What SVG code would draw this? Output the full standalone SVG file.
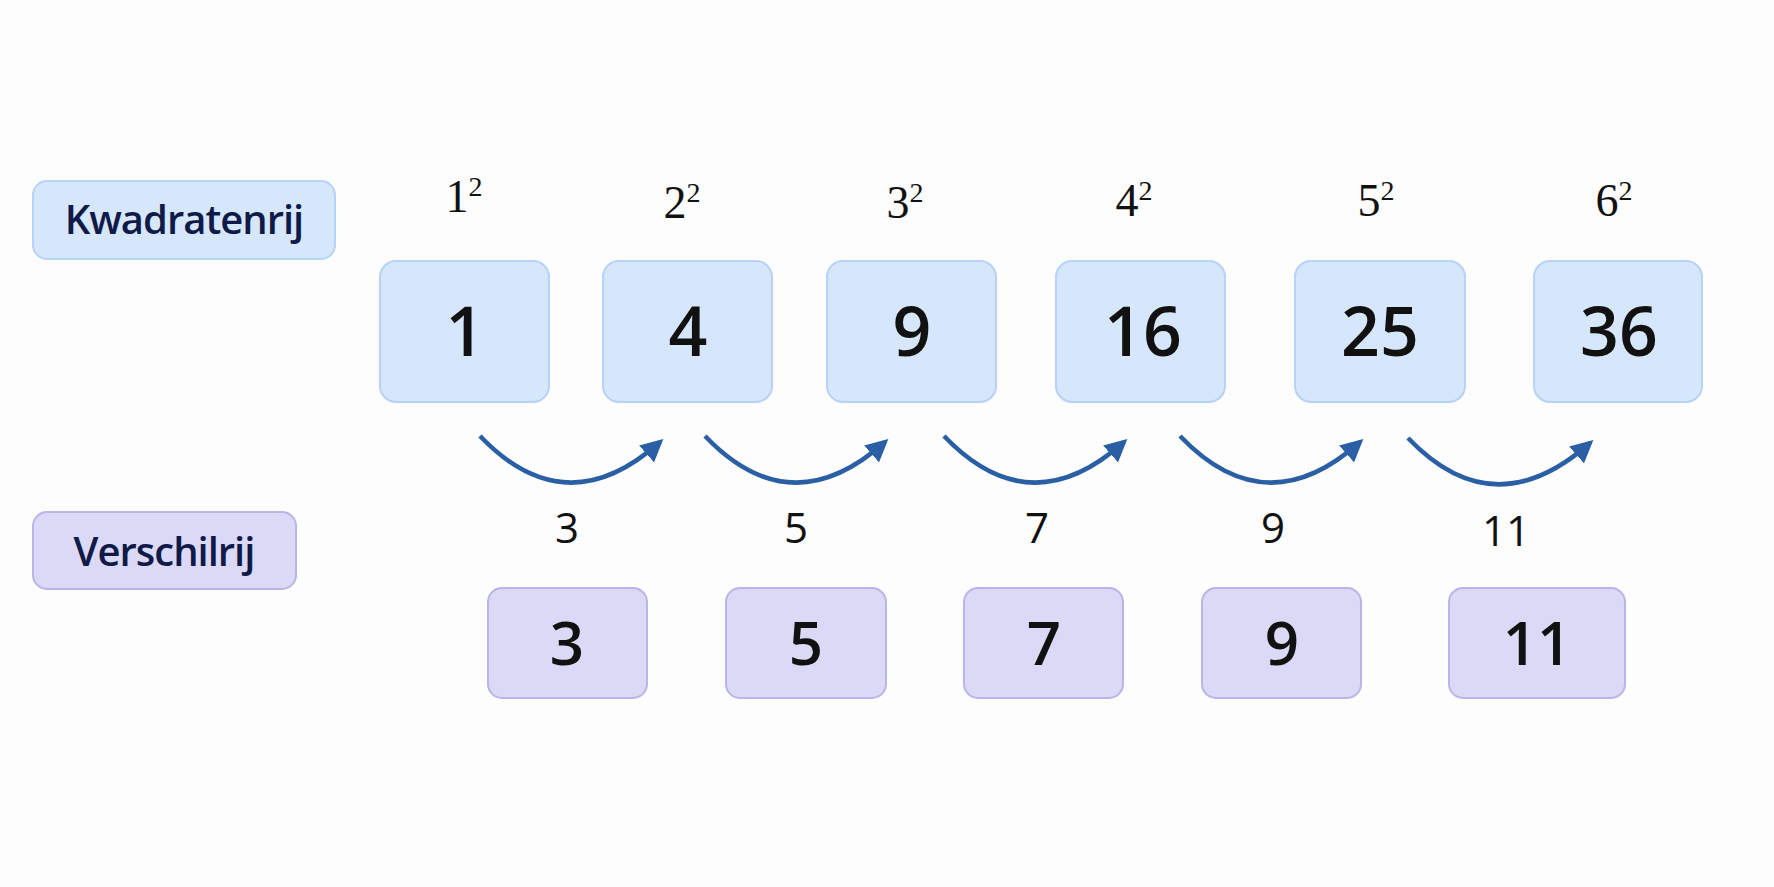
<svg xmlns="http://www.w3.org/2000/svg" width="1774" height="887" viewBox="0 0 1774 887">
<defs>
<style>
.sq rect{fill:#d7e7fb;stroke:#b6d2f6;stroke-width:2}
.df rect{fill:#dbd9f5;stroke:#bab4e8;stroke-width:2}
.lbl{font-family:"Open Sans","Noto Sans",sans-serif;fill:#0f1a48;font-size:40px;font-weight:600;text-anchor:middle;letter-spacing:-1px}
.big{font-family:"Open Sans","Noto Sans",sans-serif;fill:#111;font-size:68px;font-weight:600;text-anchor:middle}
.mid{font-family:"Open Sans","Noto Sans",sans-serif;fill:#111;font-size:60px;font-weight:600;text-anchor:middle}
.dif{font-family:"Open Sans","Noto Sans",sans-serif;fill:#111;font-size:42px;text-anchor:middle}
.pw{font-family:"Liberation Serif",serif;fill:#111;font-size:46px;text-anchor:middle}
.pw tspan{font-size:28px}
.arr{fill:none;stroke:#2a5fa5;stroke-width:4.5;marker-end:url(#ah)}
</style>
<marker id="ah" viewBox="0 0 10 10" refX="8" refY="5" markerWidth="5" markerHeight="5" orient="auto" markerUnits="strokeWidth">
<path d="M0,0 L10,5 L0,10 z" fill="#2a5fa5"/>
</marker>
</defs>
<rect width="1774" height="887" fill="#fdfdfe"/>
<g id="label-kwadratenrij" class="sq"><rect x="33" y="181" width="302" height="78" rx="14"/><text class="lbl" x="184" y="234">Kwadratenrij</text></g>
<g id="label-verschilrij" class="df"><rect x="33" y="512" width="263" height="77" rx="14"/><text class="lbl" x="164" y="566">Verschilrij</text></g>
<g id="powers">
<text class="pw" x="464" y="212">1<tspan dy="-16">2</tspan></text>
<text class="pw" x="682" y="218">2<tspan dy="-16">2</tspan></text>
<text class="pw" x="905" y="218">3<tspan dy="-16">2</tspan></text>
<text class="pw" x="1134" y="216">4<tspan dy="-16">2</tspan></text>
<text class="pw" x="1376" y="216">5<tspan dy="-16">2</tspan></text>
<text class="pw" x="1614" y="216">6<tspan dy="-16">2</tspan></text>
</g>
<g id="n1" class="sq"><rect x="380" y="261" width="169" height="141" rx="16"/><text class="big" x="465" y="356">1</text></g>
<g id="n4" class="sq"><rect x="603" y="261" width="169" height="141" rx="16"/><text class="big" x="688" y="356">4</text></g>
<g id="n9" class="sq"><rect x="827" y="261" width="169" height="141" rx="16"/><text class="big" x="912" y="356">9</text></g>
<g id="n16" class="sq"><rect x="1056" y="261" width="169" height="141" rx="16"/><text class="big" x="1143" y="356">16</text></g>
<g id="n25" class="sq"><rect x="1295" y="261" width="170" height="141" rx="16"/><text class="big" x="1380" y="356">25</text></g>
<g id="n36" class="sq"><rect x="1534" y="261" width="168" height="141" rx="16"/><text class="big" x="1619" y="356">36</text></g>
<g id="connectors">
<path class="arr" d="M480,436 Q566,526 660,442"/>
<path class="arr" d="M705,436 Q791,526 885,442"/>
<path class="arr" d="M944,436 Q1030,526 1124,442"/>
<path class="arr" d="M1180,436 Q1266,526 1360,442"/>
<path class="arr" d="M1408,438 Q1494,528 1590,443"/>
</g>
<g id="diffs">
<text class="dif" x="567" y="543">3</text>
<text class="dif" x="796" y="543">5</text>
<text class="dif" x="1037" y="543">7</text>
<text class="dif" x="1273" y="543">9</text>
<text class="dif" x="1506" y="546">11</text>
</g>
<g id="d3" class="df"><rect x="488" y="588" width="159" height="110" rx="14"/><text class="mid" x="567" y="665">3</text></g>
<g id="d5" class="df"><rect x="726" y="588" width="160" height="110" rx="14"/><text class="mid" x="806" y="665">5</text></g>
<g id="d7" class="df"><rect x="964" y="588" width="159" height="110" rx="14"/><text class="mid" x="1044" y="665">7</text></g>
<g id="d9" class="df"><rect x="1202" y="588" width="159" height="110" rx="14"/><text class="mid" x="1282" y="665">9</text></g>
<g id="d11" class="df"><rect x="1449" y="588" width="176" height="110" rx="14"/><text class="mid" x="1537" y="665">11</text></g>
</svg>
